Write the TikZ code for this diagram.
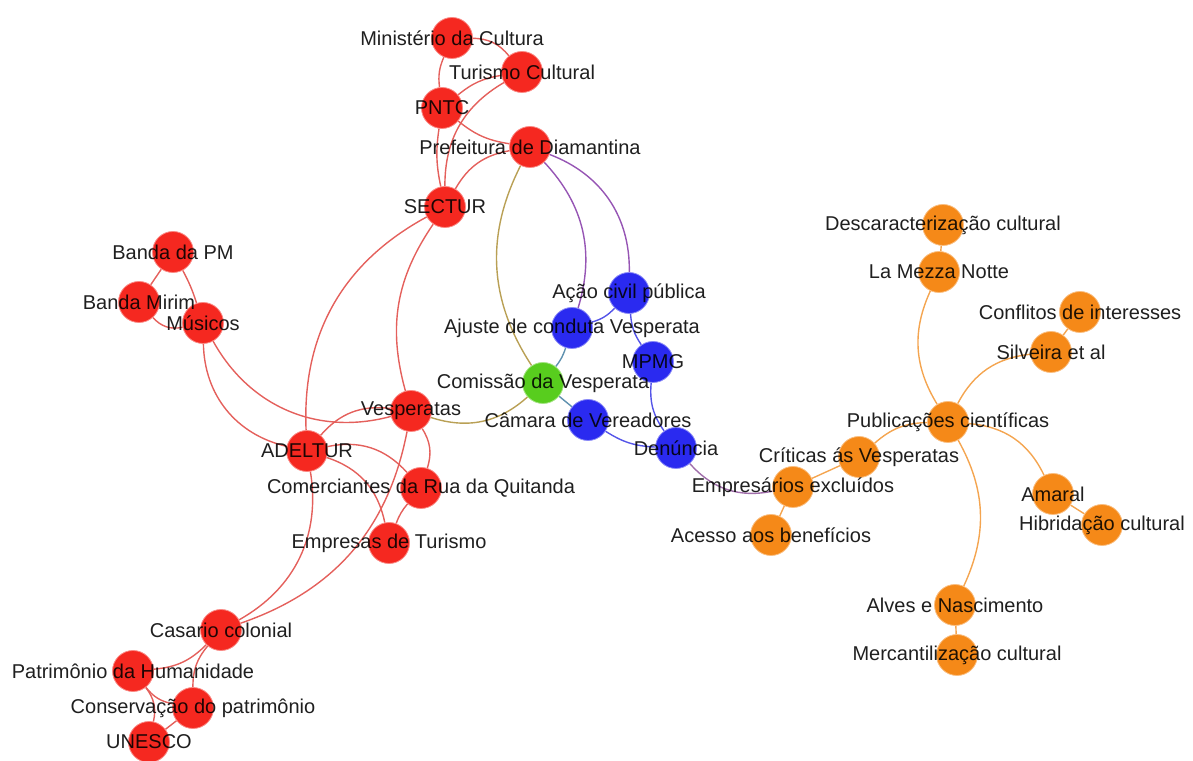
\documentclass[tikz,border=0pt]{standalone}
\usepackage{fontspec}
\setmainfont{Liberation Sans}
\usetikzlibrary{backgrounds}

% vertex fills
\definecolor{vred}{RGB}{245,40,32}
\definecolor{vgreen}{RGB}{88,205,30}
\definecolor{vblue}{RGB}{42,42,240}
\definecolor{vorange}{RGB}{245,137,24}
% edge colours (blend of the two end colours)
\definecolor{err}{RGB}{228,96,92}
\definecolor{ero}{RGB}{185,160,85}
\definecolor{erb}{RGB}{150,85,180}
\definecolor{egb}{RGB}{95,145,175}
\definecolor{ebb}{RGB}{85,85,232}
\definecolor{ebo}{RGB}{160,110,170}
\definecolor{eoo}{RGB}{244,165,80}

\tikzset{
  vx/.style={circle, minimum size=41pt, inner sep=0pt, fill=#1, draw=#1!55!white, line width=0.8pt},
  lab/.style={font=\fontsize{20}{24}\selectfont, text=black, text opacity=0.88, inner sep=0pt},
  eg/.style={line width=1.4pt, draw=#1},
}

\begin{document}
\begin{tikzpicture}[x=1pt,y=1pt]
\useasboundingbox (0,0) rectangle (1193,760);

% ---- vertices ----
\node[vx=vred] (min) at (452,722) {};
\node[vx=vred] (tur) at (522,688) {};
\node[vx=vred] (pntc) at (442,652) {};
\node[vx=vred] (pref) at (530,613) {};
\node[vx=vred] (sectur) at (445,553) {};
\node[vx=vred] (bpm) at (173,508) {};
\node[vx=vred] (bmirim) at (139,458) {};
\node[vx=vred] (musicos) at (203,437) {};
\node[vx=vred] (vesp) at (411,349) {};
\node[vx=vred] (adeltur) at (307,309) {};
\node[vx=vred] (comerc) at (421,272) {};
\node[vx=vred] (empresas) at (389,217) {};
\node[vx=vred] (casario) at (221,130) {};
\node[vx=vred] (patrim) at (133,89) {};
\node[vx=vred] (conserv) at (193,52) {};
\node[vx=vred] (unesco) at (149,18) {};

\node[vx=vgreen] (comissao) at (543,377) {};

\node[vx=vblue] (acao) at (629,467) {};
\node[vx=vblue] (ajuste) at (572,432) {};
\node[vx=vblue] (mpmg) at (653,398) {};
\node[vx=vblue] (camara) at (588,340) {};
\node[vx=vblue] (denuncia) at (676,312) {};

\node[vx=vorange] (descar) at (943,535) {};
\node[vx=vorange] (mezza) at (939,488) {};
\node[vx=vorange] (conflitos) at (1080,448) {};
\node[vx=vorange] (silveira) at (1051,408) {};
\node[vx=vorange] (public) at (948,338) {};
\node[vx=vorange] (criticas) at (859,303) {};
\node[vx=vorange] (empresarios) at (793,273) {};
\node[vx=vorange] (acesso) at (771,225) {};
\node[vx=vorange] (amaral) at (1053,266) {};
\node[vx=vorange] (hibrid) at (1102,235) {};
\node[vx=vorange] (alves) at (955,155) {};
\node[vx=vorange] (mercant) at (957,105) {};

% ---- edges, behind the vertices ----
\begin{scope}[on background layer]
\draw[eg=err] (min) to[bend left=25] (tur);
\draw[eg=err] (min) to[bend right=15] (pntc);
\draw[eg=err] (tur) to[bend right=15] (pntc);
\draw[eg=err] (tur) to[bend right=30] (sectur);
\draw[eg=err] (pntc) to[bend right=10] (sectur);
\draw[eg=err] (pntc) to[bend right=15] (pref);
\draw[eg=err] (pref) to[bend right=25] (sectur);
\draw[eg=err] (sectur) to[bend right=32] (adeltur);
\draw[eg=err] (sectur) to[bend right=25] (vesp);
\draw[eg=err] (bpm) -- (bmirim);
\draw[eg=err] (bpm) to[bend left=5] (musicos);
\draw[eg=err] (bmirim) to[bend right=30] (musicos);
\draw[eg=err] (musicos) to[bend right=38] (adeltur);
\draw[eg=err] (musicos) to[bend right=38] (vesp);
\draw[eg=err] (adeltur) to[bend left=28] (vesp);
\draw[eg=err] (adeltur) to[bend left=30] (comerc);
\draw[eg=err] (adeltur) to[bend left=30] (empresas);
\draw[eg=err] (adeltur) to[bend left=35] (casario);
\draw[eg=err] (vesp) to[bend left=25] (comerc);
\draw[eg=err] (vesp) to[bend left=30] (casario);
\draw[eg=err] (comerc) to[bend right=10] (empresas);
\draw[eg=err] (casario) to[bend left=20] (patrim);
\draw[eg=err] (casario) to[bend right=20] (conserv);
\draw[eg=err] (patrim) to[bend right=20] (conserv);
\draw[eg=err] (patrim) to[bend left=25] (unesco);
\draw[eg=err] (conserv) -- (unesco);

\draw[eg=ero] (pref) to[bend right=30] (comissao);
\draw[eg=ero] (vesp) to[bend right=30] (comissao);
\draw[eg=erb] (pref) to[bend left=30] (ajuste);
\draw[eg=erb] (pref) to[bend left=35] (acao);

\draw[eg=egb] (comissao) to[bend right=10] (ajuste);
\draw[eg=egb] (comissao) -- (camara);

\draw[eg=ebb] (ajuste) to[bend right=15] (acao);
\draw[eg=ebb] (acao) to[bend right=15] (mpmg);
\draw[eg=ebb] (mpmg) to[bend right=20] (denuncia);
\draw[eg=ebb] (camara) to[bend right=15] (denuncia);
\draw[eg=ebo] (denuncia) to[bend right=30] (empresarios);

\draw[eg=eoo] (descar) -- (mezza);
\draw[eg=eoo] (mezza) to[bend right=28] (public);
\draw[eg=eoo] (conflitos) -- (silveira);
\draw[eg=eoo] (silveira) to[bend right=28] (public);
\draw[eg=eoo] (public) to[bend right=20] (criticas);
\draw[eg=eoo] (criticas) -- (empresarios);
\draw[eg=eoo] (empresarios) -- (acesso);
\draw[eg=eoo] (public) to[bend left=30] (amaral);
\draw[eg=eoo] (amaral) -- (hibrid);
\draw[eg=eoo] (public) to[bend left=27] (alves);
\draw[eg=eoo] (alves) -- (mercant);
\end{scope}

% ---- labels, over everything ----
\node[lab] (min-t) at (min) {Ministério da Cultura};
\node[lab] (tur-t) at (tur) {Turismo Cultural};
\node[lab] (pntc-t) at (pntc) {PNTC};
\node[lab] (pref-t) at (pref) {Prefeitura de Diamantina};
\node[lab] (sectur-t) at (sectur) {SECTUR};
\node[lab] (bpm-t) at (bpm) {Banda da PM};
\node[lab] (bmirim-t) at (bmirim) {Banda Mirim};
\node[lab] (musicos-t) at (musicos) {Músicos};
\node[lab] (vesp-t) at (vesp) {Vesperatas};
\node[lab] (adeltur-t) at (adeltur) {ADELTUR};
\node[lab] (comerc-t) at (comerc) {Comerciantes da Rua da Quitanda};
\node[lab] (empresas-t) at (empresas) {Empresas de Turismo};
\node[lab] (casario-t) at (casario) {Casario colonial};
\node[lab] (patrim-t) at (patrim) {Patrimônio da Humanidade};
\node[lab] (conserv-t) at (conserv) {Conservação do patrimônio};
\node[lab] (unesco-t) at (unesco) {UNESCO};
\node[lab] (comissao-t) at (comissao) {Comissão da Vesperata};
\node[lab] (acao-t) at (acao) {Ação civil pública};
\node[lab] (ajuste-t) at (ajuste) {Ajuste de conduta Vesperata};
\node[lab] (mpmg-t) at (mpmg) {MPMG};
\node[lab] (camara-t) at (camara) {Câmara de Vereadores};
\node[lab] (denuncia-t) at (denuncia) {Denúncia};
\node[lab] (descar-t) at (descar) {Descaracterização cultural};
\node[lab] (mezza-t) at (mezza) {La Mezza Notte};
\node[lab] (conflitos-t) at (conflitos) {Conflitos de interesses};
\node[lab] (silveira-t) at (silveira) {Silveira et al};
\node[lab] (public-t) at (public) {Publicações científicas};
\node[lab] (criticas-t) at (criticas) {Críticas ás Vesperatas};
\node[lab] (empresarios-t) at (empresarios) {Empresários excluídos};
\node[lab] (acesso-t) at (acesso) {Acesso aos benefícios};
\node[lab] (amaral-t) at (amaral) {Amaral};
\node[lab] (hibrid-t) at (hibrid) {Hibridação cultural};
\node[lab] (alves-t) at (alves) {Alves e Nascimento};
\node[lab] (mercant-t) at (mercant) {Mercantilização cultural};
\end{tikzpicture}
\end{document}
